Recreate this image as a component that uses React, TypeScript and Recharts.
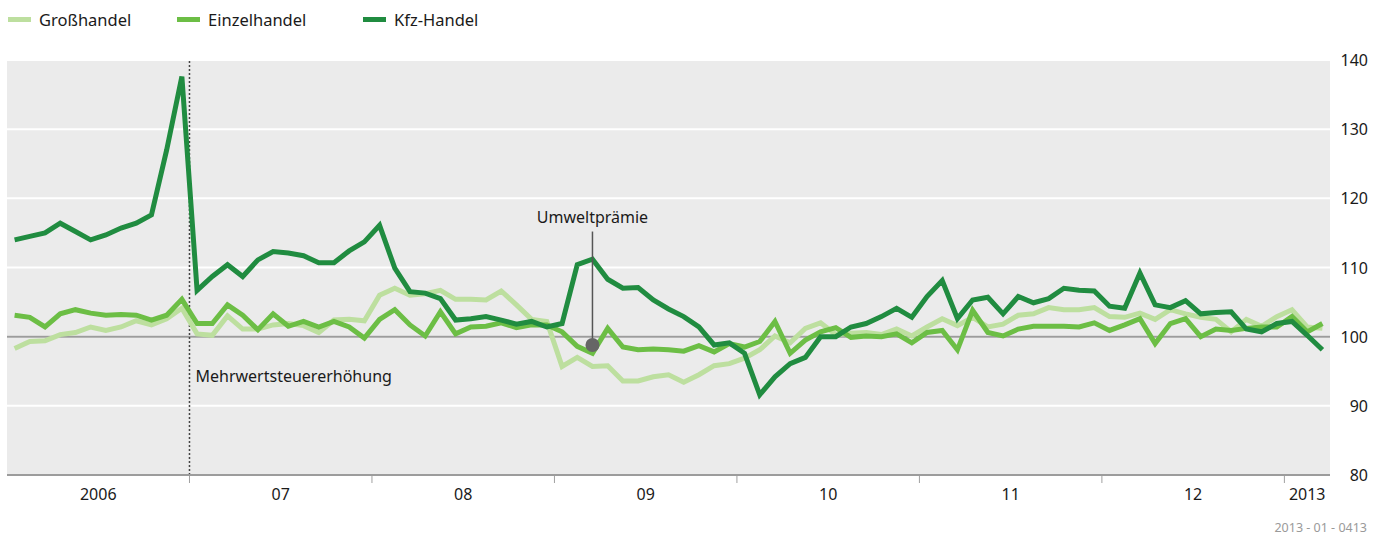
import { LineChart, Line, XAxis, YAxis, CartesianGrid, ReferenceLine, ReferenceDot } from 'recharts';

// Monatswerte Jan 2006 – Mär 2013 (Index, 2005 = 100)
const grosshandel = [
  98.3, 99.3, 99.4, 100.3, 100.6, 101.4, 100.9, 101.4, 102.3, 101.7, 102.6, 104.1,
  100.4, 100.2, 103.0, 101.1, 101.1, 101.7, 101.9, 101.6, 100.6, 102.4, 102.5, 102.3,
  106.0, 107.0, 106.0, 106.2, 106.7, 105.4, 105.4, 105.3, 106.6, 104.6, 102.5, 102.2,
  95.7, 97.0, 95.7, 95.8, 93.6, 93.6, 94.2, 94.5, 93.4, 94.5, 95.8, 96.1,
  96.9, 98.1, 100.1, 99.1, 101.2, 102.0, 100.3, 100.5, 100.6, 100.3, 101.1, 100.1,
  101.4, 102.6, 101.6, 102.8, 101.4, 101.8, 103.1, 103.3, 104.2, 103.9, 103.9, 104.2,
  102.9, 102.8, 103.4, 102.5, 103.9, 103.3, 102.8, 102.5, 100.7, 102.5, 101.5, 102.9,
  103.9, 101.4, 101.2,
];

const einzelhandel = [
  103.1, 102.8, 101.4, 103.3, 103.9, 103.4, 103.1, 103.2, 103.1, 102.4, 103.1, 105.4,
  101.9, 101.9, 104.6, 103.1, 101.0, 103.3, 101.5, 102.2, 101.4, 102.2, 101.4, 99.8,
  102.5, 103.9, 101.7, 100.1, 103.6, 100.4, 101.4, 101.5, 102.0, 101.3, 101.7, 101.7,
  100.7, 98.6, 97.6, 101.2, 98.5, 98.1, 98.2, 98.1, 97.9, 98.7, 97.8, 99.0,
  98.5, 99.3, 102.2, 97.6, 99.5, 100.7, 101.3, 99.9, 100.1, 100.0, 100.4, 99.1,
  100.6, 100.9, 98.1, 103.8, 100.6, 100.1, 101.1, 101.5, 101.5, 101.5, 101.4, 102.0,
  100.9, 101.7, 102.6, 99.0, 101.9, 102.6, 100.0, 101.1, 100.9, 101.2, 101.4, 101.4,
  102.9, 100.7, 101.9,
];

const kfzHandel = [
  114.0, 114.5, 115.0, 116.4, 115.2, 114.0, 114.7, 115.7, 116.4, 117.6, 127.0, 137.6,
  106.7, 108.7, 110.4, 108.7, 111.1, 112.3, 112.1, 111.7, 110.7, 110.7, 112.4, 113.7,
  116.1, 109.9, 106.5, 106.3, 105.5, 102.4, 102.6, 102.9, 102.4, 101.8, 102.2, 101.4,
  101.9, 110.4, 111.2, 108.3, 107.0, 107.1, 105.3, 104.0, 102.9, 101.4, 98.8, 99.1,
  97.6, 91.6, 94.2, 96.1, 97.0, 100.0, 100.0, 101.4, 101.9, 102.9, 104.1, 102.8,
  105.8, 108.1, 102.6, 105.3, 105.7, 103.3, 105.8, 104.9, 105.5, 107.0, 106.7, 106.6,
  104.4, 104.1, 109.2, 104.6, 104.2, 105.2, 103.3, 103.5, 103.6, 101.1, 100.7, 101.9,
  102.2, 100.2, 98.1,
];

// Achsenbeschriftung: Jahresmitte (Label) und Jahresgrenze (Strich)
const yearLabels = ['2006', '07', '08', '09', '10', '11', '12', '2013'];
const yearCenters = [5.5, 17.5, 29.5, 41.5, 53.5, 65.5, 77.5, 85];
const yearBounds = [11.5, 23.5, 35.5, 47.5, 59.5, 71.5, 83.5];
const yTicks = [80, 90, 100, 110, 120, 130, 140];

const vatMonth = 11.5;
const premiumMonth = 38;
const premiumValue = 98.8;

const COLORS = {
  gross: '#bddf9f',
  einzel: '#6cbe45',
  kfz: '#208c40',
};

const FONT = '"Noto Sans", sans-serif';

const data = grosshandel.map((g, i) => ({
  month: i,
  gross: g,
  einzel: einzelhandel[i],
  kfz: kfzHandel[i],
}));

const legendItems = [
  { label: 'Großhandel', color: COLORS.gross, left: 8 },
  { label: 'Einzelhandel', color: COLORS.einzel, left: 177 },
  { label: 'Kfz-Handel', color: COLORS.kfz, left: 363 },
];

function XTick({ x, y, payload }: any) {
  const v = payload.value;
  const bi = yearBounds.indexOf(v);
  if (bi >= 0) {
    return <line x1={x} x2={x} y1={y + 1} y2={y + 8} stroke="#a0a0a0" strokeWidth={1} />;
  }
  const li = yearCenters.indexOf(v);
  return (
    <text x={x} y={y + 19} textAnchor="middle" dominantBaseline="central" fontSize={16} fill="#1a1a1a" fontFamily={FONT}>
      {yearLabels[li]}
    </text>
  );
}

function YTick({ x, y, payload }: any) {
  return (
    <text x={x + 38} y={y} textAnchor="end" dominantBaseline="central" fontSize={16} fill="#1a1a1a" fontFamily={FONT}>
      {payload.value}
    </text>
  );
}

export default function App() {
  return (
    <div style={{ position: 'relative', width: 1388, height: 539, fontFamily: FONT, background: '#fff' }}>
      <style>{'body{margin:0}'}</style>

      {/* Legende */}
      {legendItems.map((item) => (
        <div key={item.label} style={{ position: 'absolute', left: item.left, top: 8, display: 'flex', alignItems: 'center', height: 22 }}>
          <div style={{ width: 23, height: 5, background: item.color, marginRight: 8 }} />
          <span style={{ fontSize: 16.5, color: '#1a1a1a' }}>{item.label}</span>
        </div>
      ))}

      <div style={{ position: 'absolute', left: 0, top: 0 }}>
        <LineChart width={1388} height={539} data={data} margin={{ top: 60, right: 0, left: 7, bottom: 34 }}>
          <CartesianGrid vertical={false} stroke="#ffffff" strokeWidth={2} fill="#ebebeb" fillOpacity={1} />
          <XAxis
            dataKey="month"
            type="number"
            domain={[-0.5, 86.5]}
            ticks={[...yearCenters, ...yearBounds].sort((a, b) => a - b)}
            interval={0}
            tick={<XTick />}
            tickLine={false}
            tickSize={0}
            tickMargin={0}
            height={30}
            axisLine={{ stroke: '#9c9c9c', strokeWidth: 2 }}
          />
          <YAxis
            orientation="right"
            domain={[80, 140]}
            ticks={yTicks}
            interval={0}
            width={58}
            tick={<YTick />}
            tickLine={false}
            tickSize={0}
            tickMargin={0}
            axisLine={false}
          />
          <ReferenceLine y={100} stroke="#9c9c9c" strokeWidth={2} />
          <ReferenceLine x={vatMonth} stroke="#444" strokeWidth={1.5} strokeDasharray="2 2" />
          <ReferenceDot
            x={vatMonth}
            y={94.3}
            r={0}
            stroke="none"
            label={{ value: 'Mehrwertsteuererhöhung', position: 'right', offset: 6, fontSize: 16, fill: '#1a1a1a', fontFamily: FONT }}
          />
          <Line type="linear" dataKey="gross" stroke={COLORS.gross} strokeWidth={5} dot={false} isAnimationActive={false} />
          <Line type="linear" dataKey="einzel" stroke={COLORS.einzel} strokeWidth={5} dot={false} isAnimationActive={false} />
          <Line type="linear" dataKey="kfz" stroke={COLORS.kfz} strokeWidth={5} dot={false} isAnimationActive={false} />
          <ReferenceLine
            segment={[{ x: premiumMonth, y: premiumValue }, { x: premiumMonth, y: 115.2 }]}
            stroke="#555"
            strokeWidth={1.5}
          />
          <ReferenceDot x={premiumMonth} y={premiumValue} r={7} fill="#666" stroke="none" />
          <ReferenceDot
            x={premiumMonth}
            y={117.2}
            r={0}
            stroke="none"
            label={{ value: 'Umweltprämie', position: 'center', fontSize: 16, fill: '#1a1a1a', fontFamily: FONT }}
          />
        </LineChart>
      </div>

      <div style={{ position: 'absolute', right: 21, top: 519, fontSize: 12.5, color: '#9a9a9a' }}>2013 - 01 - 0413</div>
    </div>
  );
}
